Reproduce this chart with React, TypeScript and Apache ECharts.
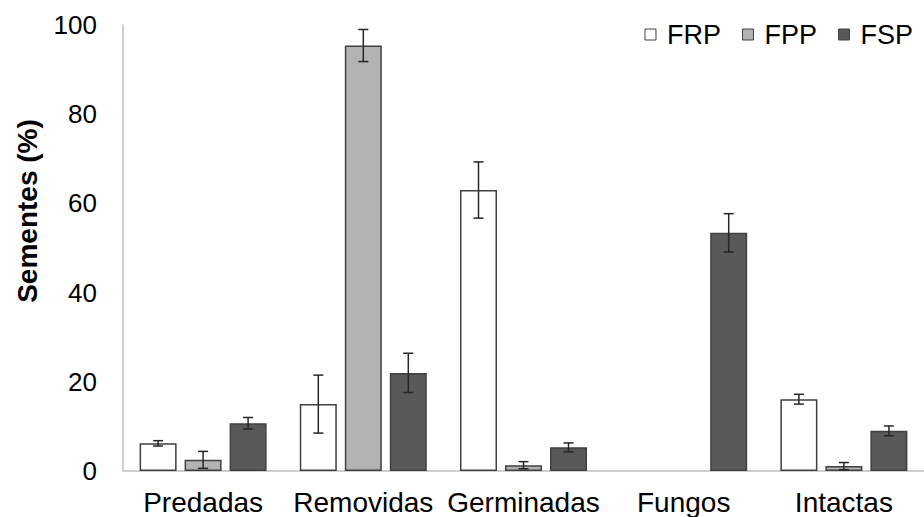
import React, { useEffect, useRef } from "react";
import * as echarts from "echarts";

const categories = ["Predadas", "Removidas", "Germinadas", "Fungos", "Intactas"];
const seriesNames = ["FRP", "FPP", "FSP"];
const frpValues = [6.2, 15.0, 63.0, 0, 16.1];
const fppValues = [2.5, 95.4, 1.3, 0, 1.1];
const fspValues = [10.7, 22.0, 5.3, 53.4, 9.0];
const frpErrors = [0.6, 6.5, 6.3, 0, 1.1];
const fppErrors = [1.9, 3.6, 0.8, 0, 0.8];
const fspErrors = [1.3, 4.4, 1.0, 4.3, 1.1];
const yTicks = [0, 20, 40, 60, 80, 100];
const yAxisTitle = "Sementes (%)";

const colors = ["#ffffff", "#b3b3b3", "#595959"];
const BAR_W = 37;
const GAP_PX = 8;
const FONT = "'Liberation Sans', Arial, sans-serif";

export default function App() {
  const ref = useRef<HTMLDivElement>(null);
  useEffect(() => {
    if (!ref.current) return;
    const chart = echarts.init(ref.current, undefined, { renderer: "svg" });
    const values = [frpValues, fppValues, fspValues];
    const errors = [frpErrors, fppErrors, fspErrors];

    const errData: number[][] = [];
    values.forEach((vals, s) => {
      vals.forEach((v, c) => {
        if (errors[s][c] > 0) errData.push([c, s, v, errors[s][c]]);
      });
    });

    const barSeries = seriesNames.map((name, i) => ({
      name,
      type: "bar",
      barWidth: BAR_W,
      barGap: (GAP_PX / BAR_W) * 100 + "%",
      data: values[i].map((v) => (v === 0 ? null : v)),
      itemStyle: { color: colors[i], borderColor: "#404040", borderWidth: 1.5 },
      emphasis: { disabled: true },
    }));

    chart.setOption({
      animation: false,
      grid: { left: 123, right: -3, top: 25, bottom: 46, containLabel: false },
      graphic: [
        {
          type: "text",
          x: 27,
          y: 211,
          rotation: Math.PI / 2,
          style: {
            text: yAxisTitle,
            fontFamily: FONT,
            fontSize: 28,
            fontWeight: "bold",
            fill: "#000",
            align: "center",
            verticalAlign: "middle",
          },
        },
      ],
      legend: {
        right: 6,
        top: 16,
        itemWidth: 11,
        itemHeight: 11,
        itemGap: 21,
        icon: "rect",
        data: seriesNames.map((n, i) => ({
          name: n,
          itemStyle: { color: colors[i], borderColor: "#404040", borderWidth: 1 },
        })),
        textStyle: { fontFamily: FONT, fontSize: 27, color: "#000", padding: [0, 0, 0, 6] },
      },
      xAxis: {
        type: "category",
        data: categories,
        axisLine: { lineStyle: { color: "#bfbfbf", width: 1.5 } },
        axisTick: { show: false },
        axisLabel: { fontFamily: FONT, fontSize: 28, color: "#000", margin: 17, interval: 0 },
      },
      yAxis: {
        type: "value",
        min: 0,
        max: 100,
        interval: 20,
        axisLine: { show: true, lineStyle: { color: "#bfbfbf", width: 1.5 } },
        axisTick: { show: false },
        splitLine: { show: false },
        axisLabel: {
          fontFamily: FONT,
          fontSize: 26,
          color: "#000",
          margin: 26,
          formatter: (v: number) => (yTicks.includes(v) ? String(v) : ""),
        },
      },
      series: [
        ...barSeries,
        {
          type: "custom",
          name: "err",
          silent: true,
          z: 10,
          encode: { x: 0, y: 2 },
          data: errData,
          renderItem: (params: any, api: any) => {
            const c = api.value(0);
            const s = api.value(1);
            const v = api.value(2);
            const e = api.value(3);
            const off = (s - 1) * (BAR_W + GAP_PX);
            const top = api.coord([c, v + e]);
            const bot = api.coord([c, Math.max(0, v - e)]);
            const x = top[0] + off;
            const half = 5;
            const style = { stroke: "#262626", lineWidth: 1.5 };
            return {
              type: "group",
              children: [
                { type: "line", shape: { x1: x, y1: top[1], x2: x, y2: bot[1] }, style },
                { type: "line", shape: { x1: x - half, y1: top[1], x2: x + half, y2: top[1] }, style },
                { type: "line", shape: { x1: x - half, y1: bot[1], x2: x + half, y2: bot[1] }, style },
              ],
            };
          },
        },
      ],
    });
    return () => chart.dispose();
  }, []);
  return <div ref={ref} style={{ width: 924, height: 517, position: "fixed", left: 0, top: 0, background: "#fff" }} />;
}
